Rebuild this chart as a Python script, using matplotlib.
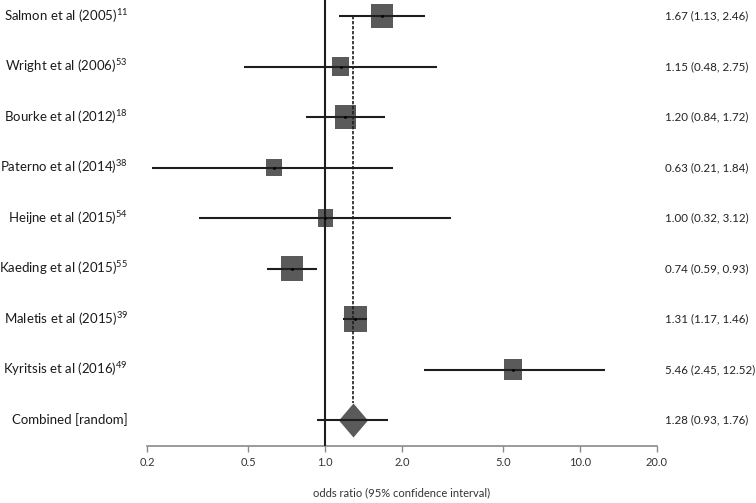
import numpy as np
import matplotlib
matplotlib.use("Agg")
import matplotlib.pyplot as plt
from matplotlib.transforms import blended_transform_factory

plt.rcParams['font.family'] = ['Lato', 'DejaVu Sans']
plt.rcParams['mathtext.fontset'] = 'custom'
plt.rcParams['mathtext.rm'] = 'Lato'
plt.rcParams['mathtext.it'] = 'Lato'
plt.rcParams['mathtext.bf'] = 'Lato'

# Datos del forest plot
estudios = ["Salmon et al (2005)", "Wright et al (2006)", "Bourke et al (2012)",
            "Paterno et al (2014)", "Heijne et al (2015)", "Kaeding et al (2015)",
            "Maletis et al (2015)", "Kyritsis et al (2016)"]
referencias = ["11", "53", "18", "38", "54", "55", "39", "49"]
odds = [1.67, 1.15, 1.20, 0.63, 1.00, 0.74, 1.31, 5.46]
ic_inf = [1.13, 0.48, 0.84, 0.21, 0.32, 0.59, 1.17, 2.45]
ic_sup = [2.46, 2.75, 1.72, 1.84, 3.12, 0.93, 1.46, 12.52]
# tamaño (peso) de cada cuadrado, en puntos
pesos = [17.5, 13.5, 17.0, 12.5, 12.5, 18.5, 19.0, 14.5]

comb_label = "Combined [random]"
comb_or = 1.28
comb_inf = 0.93
comb_sup = 1.76

ticks = [0.2, 0.5, 1.0, 2.0, 5.0, 10.0, 20.0]
tick_labels = ["0.2", "0.5", "1.0", "2.0", "5.0", "10.0", "20.0"]

W, H = 756, 503
fig = plt.figure(figsize=(W / 100, H / 100), dpi=100)

# posicion del eje en pixeles
x0, x1 = 147, 657
y_axis = 446
y_first = 16
paso = 50.5

ax = fig.add_axes([x0 / W, (H - y_axis) / H, (x1 - x0) / W, y_axis / H])
ax.set_xscale('log')
ax.set_xlim(0.2, 20)
n = len(estudios)
ax.set_ylim((y_axis - y_first) / paso, -y_first / paso)

gris = '#5a5a5a'
linea = '#1e1e1e'

filas = np.arange(n)
rect = [(-0.44, -0.5), (0.44, -0.5), (0.44, 0.5), (-0.44, 0.5), (-0.44, -0.5)]
ax.scatter(odds, filas, s=np.array(pesos) ** 2, marker=rect, color=gris,
           linewidths=0, zorder=2)
ax.hlines(filas, ic_inf, ic_sup, color=linea, lw=1.5, zorder=3)
ax.scatter(odds, filas, s=4, color='black', linewidths=0, zorder=4)

# combinado
diamante = [(0, 0.5), (0.426, 0), (0, -0.5), (-0.426, 0), (0, 0.5)]
alto_d = 24.5
ax.scatter([comb_or], [n], s=alto_d ** 2, marker=diamante, color=gris,
           linewidths=0, zorder=2)
ax.hlines([n], comb_inf, comb_sup, color=linea, lw=1.5, zorder=3)

# lineas verticales
ax.axvline(1.0, color=linea, lw=1.5, zorder=3)
ax.vlines(comb_or, 0, n - (alto_d * 100 / 72 / 2) / paso, color=linea, lw=1.2,
          linestyles=(0, (2, 1)), zorder=3)

for s in ['top', 'right', 'left']:
    ax.spines[s].set_visible(False)
ax.spines['bottom'].set_color('#8a8a8a')
ax.spines['bottom'].set_linewidth(1.2)
ax.set_yticks([])
ax.set_xticks(ticks)
ax.set_xticklabels(tick_labels)
ax.minorticks_off()
ax.tick_params(axis='x', length=4, width=1, color='#8a8a8a', labelsize=8,
               labelcolor='#333333', pad=4)
ax.set_xlabel("odds ratio (95% confidence interval)", fontsize=8, color='#333333',
              labelpad=14)

# textos a izquierda y derecha
tr = blended_transform_factory(fig.transFigure, ax.transData)
izq = []
der = []
for i in range(n):
    izq.append(ax.text(128 / W, i, estudios[i] + "$^{" + referencias[i] + "}$",
                       transform=tr, ha='right', va='center', fontsize=10,
                       color='#1a1a1a'))
    der.append(ax.text(665 / W, i, "%.2f (%.2f, %.2f)" % (odds[i], ic_inf[i], ic_sup[i]),
                       transform=tr, ha='left', va='center', fontsize=8.6,
                       color='#222222'))
izq.append(ax.text(128 / W, n, comb_label, transform=tr, ha='right', va='center',
                   fontsize=10, color='#1a1a1a'))
der.append(ax.text(665 / W, n, "%.2f (%.2f, %.2f)" % (comb_or, comb_inf, comb_sup),
                   transform=tr, ha='left', va='center', fontsize=8.6, color='#222222'))

# ajustar tamaño de letra al ancho del original
r = fig.canvas.get_renderer()
w_izq = izq[0].get_window_extent(r).width
f_izq = 10 * 124 / w_izq
for t in izq:
    t.set_fontsize(f_izq)
w_der = der[7].get_window_extent(r).width
f_der = 8.6 * 89 / w_der
for t in der:
    t.set_fontsize(f_der)

fig.savefig("out.png", dpi=100)
